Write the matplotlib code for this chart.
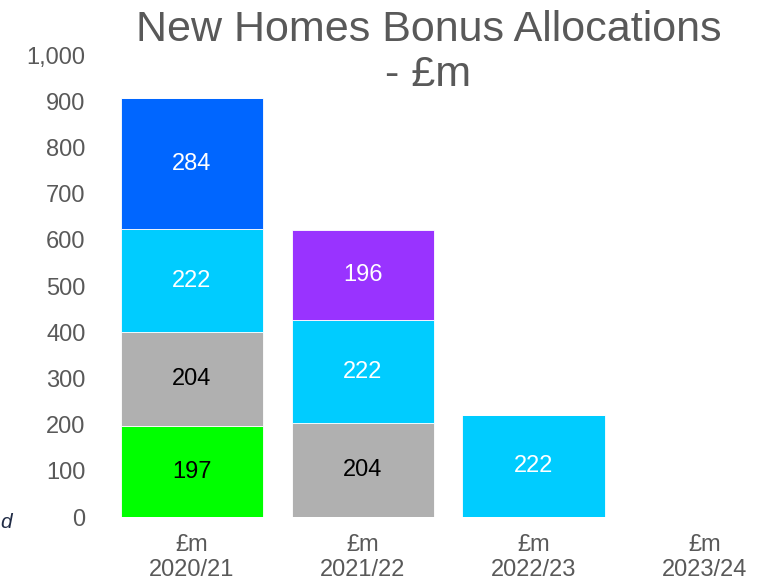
import numpy as np
import matplotlib.pyplot as plt

plt.rcParams['font.family'] = ['Liberation Sans', 'DejaVu Sans']

years = ['£m\n2020/21', '£m\n2021/22', '£m\n2022/23', '£m\n2023/24']
# legacy payments, stacked bottom to top
green = [197, 0, 0, 0]
grey = [204, 204, 0, 0]
light_blue = [222, 222, 222, 0]
blue = [284, 0, 0, 0]
purple = [0, 196, 0, 0]

series = [
    (green, '#00FF00', 'black'),
    (grey, '#B0B0B0', 'black'),
    (light_blue, '#00CCFF', 'white'),
    (blue, '#0066FF', 'white'),
    (purple, '#9933FF', 'white'),
]

txt = '#595959'
fig = plt.figure(figsize=(7.69, 5.86), dpi=100)
ax = fig.add_axes([0.1385, 0.1177, 0.889, 0.788])

x = np.arange(len(years))
bottom = np.zeros(len(years))
for vals, col, lab_col in series:
    vals = np.array(vals, dtype=float)
    bars = ax.bar(x, vals, width=0.835, bottom=bottom, color=col,
                  edgecolor='#FFFFFF', linewidth=0.6)
    for b, v, b0 in zip(bars, vals, bottom):
        if v > 0:
            ax.text(b.get_x() + b.get_width() / 2, b0 + v / 2, f'{v:.0f}',
                    ha='center', va='center', color=lab_col, fontsize=17)
    bottom += vals

ax.set_xlim(-0.5, 3.5)
ax.set_ylim(0, 1000)
ax.set_yticks(np.arange(0, 1001, 100))
ax.set_yticklabels([f'{v:,}' for v in range(0, 1001, 100)])
ax.set_xticks(x)
ax.set_xticklabels(years)
ax.tick_params(length=0, labelsize=17, labelcolor=txt)
ax.tick_params(axis='y', pad=15)
ax.tick_params(axis='x', pad=12)
for s in ax.spines.values():
    s.set_visible(False)

fig.text(0.557, 0.91, 'New Homes Bonus Allocations\n- £m', ha='center',
         va='center', fontsize=31, color=txt, linespacing=1.15)

# clipped legend fragment at left edge
fig.text(0.0, 0.108, 'd', fontsize=15, style='italic', color='#1F2A44',
         ha='left', va='center')

fig.savefig('out.png', dpi=100)
